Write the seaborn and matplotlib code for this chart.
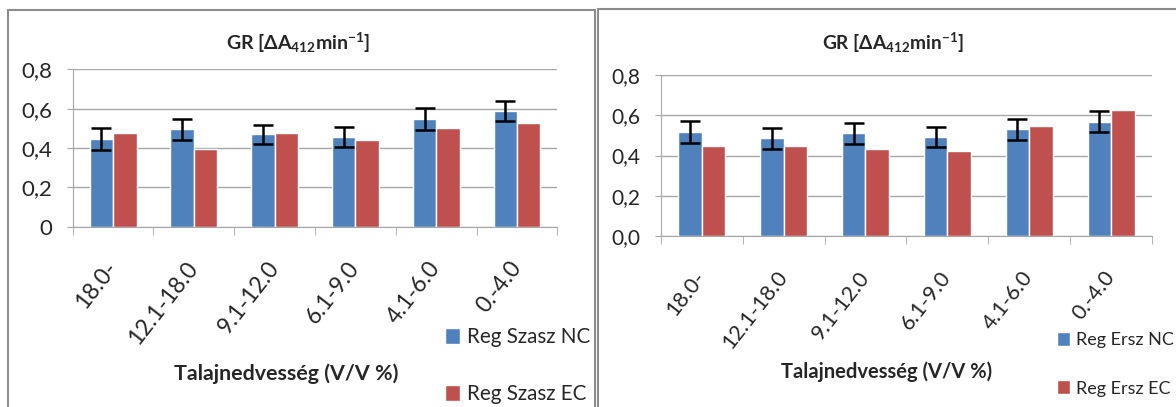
import matplotlib
matplotlib.use("Agg")
import matplotlib.pyplot as plt
from matplotlib.patches import Rectangle
from matplotlib.ticker import FixedLocator, FuncFormatter
import seaborn as sns
import pandas as pd

# data
categories = ["18.0-", "12.1-18.0", "9.1-12.0", "6.1-9.0", "4.1-6.0", "0.-4.0"]

szasz_nc = [0.444, 0.495, 0.469, 0.456, 0.549, 0.588]
szasz_nc_err = [0.056, 0.053, 0.050, 0.053, 0.055, 0.053]
szasz_ec = [0.475, 0.395, 0.475, 0.442, 0.502, 0.527]

ersz_nc = [0.517, 0.485, 0.510, 0.492, 0.530, 0.568]
ersz_nc_err = [0.055, 0.053, 0.052, 0.052, 0.053, 0.053]
ersz_ec = [0.447, 0.447, 0.434, 0.421, 0.548, 0.624]

BLUE = "#4F81BD"
RED = "#C0504D"
GRID = "#A6A6A6"

sns.set_style("white")
plt.rcParams["font.family"] = ["Lato", "DejaVu Sans"]
plt.rcParams["mathtext.fontset"] = "custom"
plt.rcParams["mathtext.rm"] = "Lato"
plt.rcParams["mathtext.bf"] = "Lato:bold"
plt.rcParams["mathtext.default"] = "bf"


def draw_panel(ax, nc, nc_err, ec, names, zero_label, legend_pos, sizes,
               title_x, title_pad, xlabel_pos):
    tick_fs, ytick_fs, label_fs, title_fs, legend_fs = sizes
    df = pd.DataFrame({
        "cat": categories * 2,
        "val": nc + ec,
        "series": [names[0]] * len(categories) + [names[1]] * len(categories),
    })
    sns.barplot(data=df, x="cat", y="val", hue="series", palette=[BLUE, RED],
                width=0.58, saturation=1, errorbar=None, ax=ax, legend=True)

    # error bars on the NC series
    xs = [p.get_x() + p.get_width() / 2 for p in ax.containers[0].patches]
    ax.errorbar(xs, nc, yerr=nc_err, fmt="none", ecolor="black",
                elinewidth=1.8, capsize=7, capthick=1.8, zorder=5)

    ax.set_xlim(-0.5, len(categories) - 0.5)
    ax.set_ylim(0, 0.8)
    ax.set_yticks([0, 0.2, 0.4, 0.6, 0.8])
    ax.yaxis.set_major_formatter(FuncFormatter(
        lambda v, p: zero_label if abs(v) < 1e-9 else f"{v:.1f}".replace(".", ",")))
    ax.grid(axis="y", color=GRID, linewidth=1)
    ax.set_axisbelow(True)

    for s in ["top", "right"]:
        ax.spines[s].set_visible(False)
    ax.spines["left"].set_color(GRID)
    ax.spines["bottom"].set_color(GRID)

    ax.xaxis.set_minor_locator(FixedLocator([i - 0.5 for i in range(len(categories) + 1)]))
    ax.tick_params(axis="x", which="major", length=0, pad=27)
    ax.tick_params(axis="x", which="minor", length=6, color=GRID, direction="out", bottom=True)
    ax.tick_params(axis="y", length=4.5, color=GRID, direction="out", left=True,
                   labelsize=ytick_fs, pad=10)
    ax.set_xticks(range(len(categories)))
    ax.set_xticklabels(categories, rotation=52, ha="right", va="center",
                       rotation_mode="anchor", fontsize=tick_fs)

    ax.set_xlabel("Talajnedvesség (V/V %)", fontsize=label_fs, fontweight="bold")
    ax.xaxis.set_label_coords(*xlabel_pos)
    ax.set_ylabel("")
    ax.set_title("GR [ΔA$_{412}$min$^{-1}$]", fontsize=title_fs, fontweight="bold",
                 x=title_x, pad=title_pad)

    handles, labels = ax.get_legend_handles_labels()
    ax.legend(handles, labels, loc="upper left", bbox_to_anchor=legend_pos,
              bbox_transform=ax.figure.transFigure, frameon=False, fontsize=legend_fs,
              borderpad=0, borderaxespad=0,
              handlelength=0.75, handleheight=0.8, handletextpad=0.35, labelspacing=1.8)


fig = plt.figure(figsize=(11.76, 4.07), dpi=100)

ax1 = fig.add_axes([0.0618, 0.443, 0.4122, 0.3867])
ax2 = fig.add_axes([0.5618, 0.4201, 0.418, 0.3956])

draw_panel(ax1, szasz_nc, szasz_nc_err, szasz_ec,
           ["Reg Szasz NC", "Reg Szasz EC"], "0", (0.378, 0.196),
           (16.5, 16, 15.4, 14, 14.9), 0.465, 14, (0.441, -0.866))
draw_panel(ax2, ersz_nc, ersz_nc_err, ersz_ec,
           ["Reg Ersz NC", "Reg Ersz EC"], "0,0", (0.8985, 0.185),
           (15.5, 15, 14.5, 13.8, 13), 0.4715, 18, (0.46, -0.781))

# chart frames
fig.patches.append(Rectangle((8 / 1176, -0.05), 587 / 1176, 1.05 - 10 / 407,
                             transform=fig.transFigure, fill=False,
                             edgecolor="#8C8C8C", linewidth=1.5))
fig.patches.append(Rectangle((598 / 1176, -0.05), 600 / 1176, 1.05 - 9 / 407,
                             transform=fig.transFigure, fill=False,
                             edgecolor="#8C8C8C", linewidth=1.5))

fig.savefig("out.png", dpi=100)
